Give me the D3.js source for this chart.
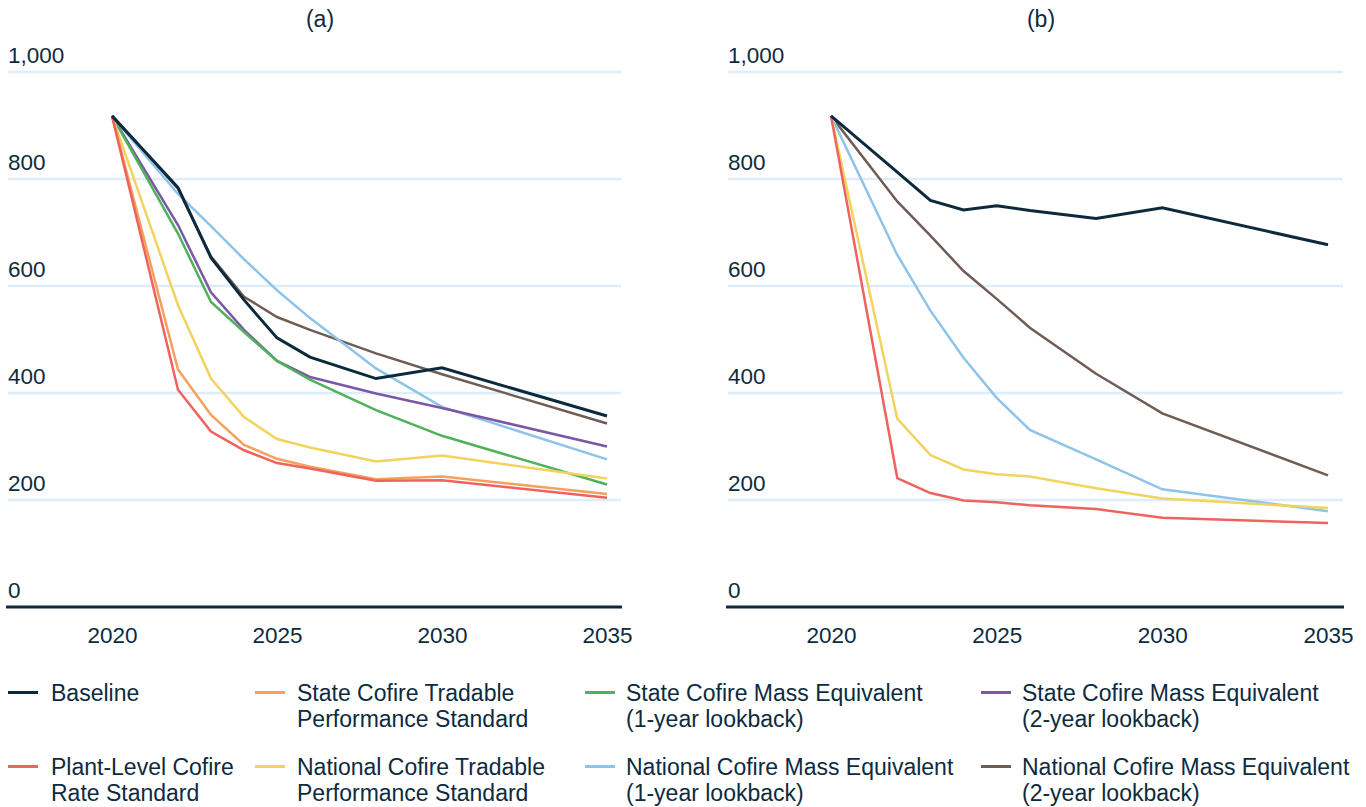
<!DOCTYPE html>
<html>
<head>
<meta charset="utf-8">
<script src="https://cdn.jsdelivr.net/npm/d3@7"></script>
<style>
  html, body { margin: 0; padding: 0; background: #ffffff; }
  svg { display: block; }
  text { font-family: "Liberation Sans", Arial, sans-serif; fill: #0d2b3e; }
</style>
</head>
<body>
<svg id="chart" width="1366" height="807"></svg>
<script>
// ---- data ----
const years = [2020, 2022, 2023, 2024, 2025, 2026, 2028, 2030, 2035];
const yTicks = [0, 200, 400, 600, 800, 1000];
const xTicks = [2020, 2025, 2030, 2035];
const panelTitles = ["(a)", "(b)"];

const seriesNames = [
  "Baseline",
  "State Cofire Tradable Performance Standard",
  "State Cofire Mass Equivalent (1-year lookback)",
  "State Cofire Mass Equivalent (2-year lookback)",
  "Plant-Level Cofire Rate Standard",
  "National Cofire Tradable Performance Standard",
  "National Cofire Mass Equivalent (1-year lookback)",
  "National Cofire Mass Equivalent (2-year lookback)"
];

// Panel (a)
const baselineA      = [918, 784, 653, 574, 503, 467, 427, 447, 357];
const stateTradableA = [918, 444, 359, 303, 277, 262, 239, 244, 211];
const state1yrA      = [918, 698, 570, 514, 460, 425, 368, 320, 229];
const state2yrA      = [918, 714, 588, 518, 460, 430, 399, 372, 300];
const plantA         = [918, 406, 328, 293, 269, 259, 236, 237, 204];
const natTradableA   = [918, 564, 427, 355, 314, 298, 272, 283, 240];
const nat1yrA        = [918, 772, 712, 650, 592, 540, 446, 374, 276];
const nat2yrA        = [918, 782, 655, 580, 542, 518, 474, 435, 343];

// Panel (b)
const baselineB      = [918, 813, 760, 742, 750, 741, 726, 746, 677];
const plantB         = [918, 241, 213, 199, 196, 190, 183, 167, 157];
const natTradableB   = [918, 352, 284, 257, 248, 244, 222, 203, 185];
const nat1yrB        = [918, 658, 554, 466, 391, 331, 276, 220, 179];
const nat2yrB        = [918, 758, 694, 628, 576, 522, 436, 362, 246];

// ---- styles ----
const colors = {
  "Baseline": "#0c2a3b",
  "State Cofire Tradable Performance Standard": "#f5a05b",
  "State Cofire Mass Equivalent (1-year lookback)": "#4fb15a",
  "State Cofire Mass Equivalent (2-year lookback)": "#7a58a7",
  "Plant-Level Cofire Rate Standard": "#f0625d",
  "National Cofire Tradable Performance Standard": "#f1d35e",
  "National Cofire Mass Equivalent (1-year lookback)": "#8ec4ea",
  "National Cofire Mass Equivalent (2-year lookback)": "#6f5d55"
};

// draw order (bottom to top)
const panelA = [
  [seriesNames[7], nat2yrA],
  [seriesNames[6], nat1yrA],
  [seriesNames[3], state2yrA],
  [seriesNames[2], state1yrA],
  [seriesNames[5], natTradableA],
  [seriesNames[1], stateTradableA],
  [seriesNames[4], plantA],
  [seriesNames[0], baselineA]
];
const panelB = [
  [seriesNames[7], nat2yrB],
  [seriesNames[6], nat1yrB],
  [seriesNames[5], natTradableB],
  [seriesNames[4], plantB],
  [seriesNames[0], baselineB]
];

const svg = d3.select("#chart");

const y = d3.scaleLinear().domain([0, 1000]).range([607, 72]);

const panels = [
  { title: panelTitles[0], series: panelA, x0: 112, x1: 607, gl: 8, gr: 621, titleX: 320 },
  { title: panelTitles[1], series: panelB, x0: 831, x1: 1328, gl: 728, gr: 1343, titleX: 1041 }
];

panels.forEach(p => {
  const x = d3.scaleLinear().domain([2020, 2035]).range([p.x0, p.x1]);
  const g = svg.append("g");

  // gridlines
  g.selectAll("line.grid").data(yTicks.filter(t => t > 0)).join("line")
    .attr("x1", p.gl).attr("x2", p.gr)
    .attr("y1", d => y(d)).attr("y2", d => y(d))
    .attr("stroke", "#ddedfa").attr("stroke-width", 2.5);

  // y tick labels
  g.selectAll("text.ytick").data(yTicks).join("text")
    .attr("x", p.gl).attr("y", d => y(d) - 9)
    .attr("font-size", 22.5)
    .text(d => d3.format(",")(d));

  // x axis
  const xAxis = d3.axisBottom(x).tickValues(xTicks).tickSize(0).tickPadding(20).tickFormat(d3.format("d"));
  const ax = g.append("g").attr("transform", `translate(0,${y(0)})`).call(xAxis);
  ax.select(".domain").remove();
  ax.selectAll("text").attr("font-size", 22.5).attr("font-family", "Liberation Sans, Arial, sans-serif").attr("fill", "#0d2b3e");

  g.append("line")
    .attr("x1", p.gl - 2).attr("x2", p.gr + 1)
    .attr("y1", y(0)).attr("y2", y(0))
    .attr("stroke", "#0c2a3b").attr("stroke-width", 3);

  // title
  g.append("text").attr("x", p.titleX).attr("y", 27)
    .attr("text-anchor", "middle").attr("font-size", 23).text(p.title);

  // lines
  const line = d3.line().x((d, i) => x(years[i])).y(d => y(d));
  g.selectAll("path.series").data(p.series).join("path")
    .attr("fill", "none")
    .attr("stroke", d => colors[d[0]])
    .attr("stroke-width", d => d[0] === "Baseline" ? 3 : 2.5)
    .attr("stroke-linejoin", "miter")
    .attr("d", d => line(d[1]));
});

// ---- legend ----
const legendItems = [
  { name: seriesNames[0], lines: ["Baseline"], col: 0, row: 0 },
  { name: seriesNames[1], lines: ["State Cofire Tradable", "Performance Standard"], col: 1, row: 0 },
  { name: seriesNames[2], lines: ["State Cofire Mass Equivalent", "(1-year lookback)"], col: 2, row: 0 },
  { name: seriesNames[3], lines: ["State Cofire Mass Equivalent", "(2-year lookback)"], col: 3, row: 0 },
  { name: seriesNames[4], lines: ["Plant-Level Cofire", "Rate Standard"], col: 0, row: 1 },
  { name: seriesNames[5], lines: ["National Cofire Tradable", "Performance Standard"], col: 1, row: 1 },
  { name: seriesNames[6], lines: ["National Cofire Mass Equivalent", "(1-year lookback)"], col: 2, row: 1 },
  { name: seriesNames[7], lines: ["National Cofire Mass Equivalent", "(2-year lookback)"], col: 3, row: 1 }
];
const colSwatchX = [8, 255, 585, 981];
const colTextX = [51, 297, 626, 1022];
const rowBaseY = [701, 775];

const lg = svg.append("g");
legendItems.forEach(it => {
  const by = rowBaseY[it.row];
  lg.append("line")
    .attr("x1", colSwatchX[it.col]).attr("x2", colSwatchX[it.col] + 30)
    .attr("y1", by - 8.5).attr("y2", by - 8.5)
    .attr("stroke", colors[it.name]).attr("stroke-width", 3);
  const t = lg.append("text").attr("x", colTextX[it.col]).attr("y", by).attr("font-size", 23);
  it.lines.forEach((ln, i) => {
    t.append("tspan").attr("x", colTextX[it.col]).attr("y", by + i * 26).text(ln);
  });
});
</script>
</body>
</html>
